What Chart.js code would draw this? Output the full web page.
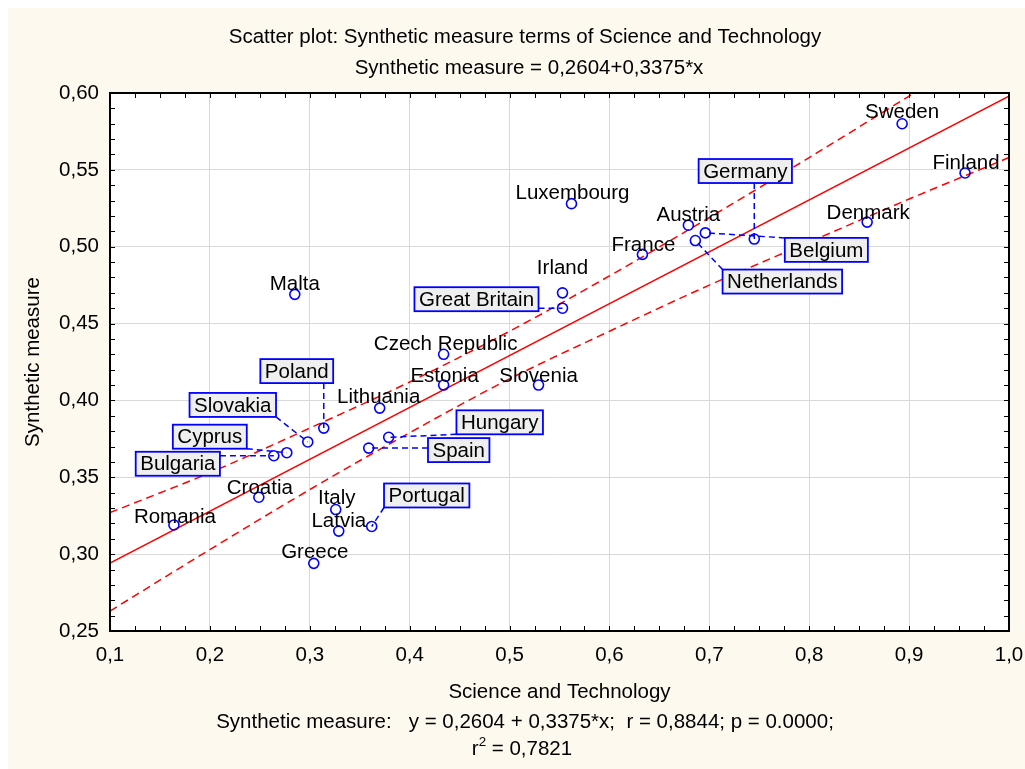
<!DOCTYPE html>
<html>
<head>
<meta charset="utf-8">
<script src="https://cdn.jsdelivr.net/npm/chart.js@4/dist/chart.umd.min.js"></script>
<style>
  body { margin: 0; background: #ffffff; }
  canvas { display: block; }
</style>
</head>
<body>
<canvas id="scatter-chart" width="1025" height="769"></canvas>
<script>
// Data
const countries = ["Sweden", "Finland", "Denmark", "Luxembourg", "Austria", "Germany", "Belgium",
  "Netherlands", "France", "Irland", "Great Britain", "Malta", "Czech Republic", "Estonia",
  "Slovenia", "Lithuania", "Poland", "Slovakia", "Hungary", "Spain", "Cyprus", "Bulgaria",
  "Croatia", "Romania", "Italy", "Latvia", "Portugal", "Greece"];
const scienceTech = [0.893, 0.956, 0.858, 0.562, 0.679, 0.745, 0.696,
  0.686, 0.633, 0.553, 0.553, 0.285, 0.434, 0.434,
  0.529, 0.370, 0.314, 0.298, 0.379, 0.359, 0.277, 0.264,
  0.249, 0.164, 0.326, 0.329, 0.362, 0.304];
const syntheticMeasure = [0.580, 0.548, 0.516, 0.528, 0.514, 0.505, 0.509,
  0.504, 0.495, 0.470, 0.460, 0.469, 0.430, 0.410,
  0.410, 0.395, 0.382, 0.373, 0.376, 0.369, 0.366, 0.364,
  0.337, 0.319, 0.329, 0.315, 0.318, 0.294];

// regression line and 95% bands
const fitX = [0.1, 1.0];
const fitY = [0.2942, 0.5979];
const bandX = [0.1, 0.2, 0.3, 0.4, 0.5, 0.6, 0.7, 0.8, 0.9, 1.0];
const bandUpper = [0.327, 0.353, 0.382, 0.412, 0.445, 0.481, 0.519, 0.558, 0.598, 0.638];
const bandLower = [0.263, 0.303, 0.342, 0.379, 0.414, 0.445, 0.475, 0.503, 0.531, 0.558];

const titleLines = ["Scatter plot: Synthetic measure terms of Science and Technology",
  "Synthetic measure = 0,2604+0,3375*x"];
const xTitle = "Science and Technology";
const yTitle = "Synthetic measure";
const statsLine = "Synthetic measure:   y = 0,2604 + 0,3375*x;  r = 0,8844; p = 0.0000;";
const r2Value = " = 0,7821";

// label placement: offset of label centre from its point, boxed or plain
const labelLayout = {
  "Sweden": [0, -12], "Finland": [1, -11], "Denmark": [1, -10], "Luxembourg": [1, -11],
  "Austria": [0, -11], "Germany": [-9, -68, true], "Belgium": [121, 17, true],
  "Netherlands": [87, 41, true], "France": [1, -10], "Irland": [0, -25],
  "Great Britain": [-86, -9, true], "Malta": [0, -11], "Czech Republic": [2, -11],
  "Estonia": [1, -10], "Slovenia": [0, -10], "Lithuania": [-1, -12],
  "Poland": [-27, -57, true], "Slovakia": [-75, -37, true], "Hungary": [111, -15, true],
  "Spain": [90, 2, true], "Cyprus": [-77, -16, true], "Bulgaria": [-96, 8, true],
  "Croatia": [1, -10], "Romania": [1, -9], "Italy": [1, -12], "Latvia": [0, -11],
  "Portugal": [55, -31, true], "Greece": [1, -12]
};

const FONT = "Liberation Sans, Arial, sans-serif";
const FS = 20.5;

const decorations = {
  id: "decorations",
  beforeDraw(chart) {
    const ctx = chart.ctx;
    const a = chart.chartArea;
    ctx.save();
    ctx.fillStyle = "#fdf9ee";
    ctx.fillRect(8, 8, chart.width - 8, chart.height - 8);
    ctx.fillStyle = "#ffffff";
    ctx.fillRect(a.left, a.top, a.right - a.left, a.bottom - a.top);
    ctx.restore();
  },
  afterDatasetsDraw(chart) {
    const ctx = chart.ctx;
    const meta = chart.getDatasetMeta(0);
    ctx.save();
    ctx.font = FS + "px " + FONT;
    ctx.textAlign = "center";
    ctx.textBaseline = "middle";
    countries.forEach((name, i) => {
      const pt = meta.data[i];
      const lay = labelLayout[name];
      const cx = pt.x + lay[0];
      const cy = pt.y + lay[1];
      if (lay[2]) {
        const w = ctx.measureText(name).width + 9;
        const h = 24;
        const l = cx - w / 2, t = cy - h / 2;
        const sx = Math.min(Math.max(pt.x, l), l + w);
        const sy = Math.min(Math.max(pt.y, t), t + h);
        ctx.strokeStyle = "#0000ff";
        ctx.lineWidth = 1.5;
        ctx.setLineDash([6, 4]);
        ctx.beginPath();
        ctx.moveTo(sx, sy);
        ctx.lineTo(pt.x, pt.y);
        ctx.stroke();
        ctx.setLineDash([]);
        ctx.fillStyle = "#efefef";
        ctx.fillRect(l, t, w, h);
        ctx.lineWidth = 1.8;
        ctx.strokeRect(l, t, w, h);
      }
      ctx.fillStyle = "#000000";
      ctx.fillText(name, cx, cy + 1);
    });
    ctx.restore();
  },
  afterDraw(chart) {
    const ctx = chart.ctx;
    const a = chart.chartArea;
    const xs = chart.scales.x, ys = chart.scales.y;
    ctx.save();
    // inward tick marks on all sides
    ctx.strokeStyle = "#000000";
    ctx.lineWidth = 1;
    ctx.beginPath();
    for (let i = 0; i <= 36; i++) {
      const px = Math.round(xs.getPixelForValue(0.1 + i * 0.025)) + 0.5;
      ctx.moveTo(px, a.top); ctx.lineTo(px, a.top + 5);
      ctx.moveTo(px, a.bottom); ctx.lineTo(px, a.bottom - 5);
    }
    for (let i = 0; i <= 35; i++) {
      const py = Math.round(ys.getPixelForValue(0.25 + i * 0.01)) + 0.5;
      ctx.moveTo(a.left, py); ctx.lineTo(a.left + 5, py);
      ctx.moveTo(a.right, py); ctx.lineTo(a.right - 5, py);
    }
    ctx.stroke();
    ctx.lineWidth = 2;
    ctx.strokeRect(a.left, a.top, a.right - a.left, a.bottom - a.top);

    // titles and statistics text
    ctx.fillStyle = "#000000";
    ctx.font = FS + "px " + FONT;
    ctx.textAlign = "center";
    ctx.textBaseline = "middle";
    ctx.fillText(titleLines[0], 525, 37);
    ctx.fillText(titleLines[1], 529, 68);
    ctx.fillText(xTitle, (a.left + a.right) / 2, 692);
    ctx.fillText(statsLine, 525, 722);
    ctx.textAlign = "left";
    const rW = ctx.measureText("r").width;
    ctx.font = (FS * 0.65) + "px " + FONT;
    const sW = ctx.measureText("2").width;
    ctx.font = FS + "px " + FONT;
    const vW = ctx.measureText(r2Value).width;
    let x0 = 522 - (rW + sW + vW) / 2;
    ctx.fillText("r", x0, 749);
    ctx.font = (FS * 0.65) + "px " + FONT;
    ctx.fillText("2", x0 + rW, 742);
    ctx.font = FS + "px " + FONT;
    ctx.fillText(r2Value, x0 + rW + sW, 749);

    ctx.save();
    ctx.translate(33, (a.top + a.bottom) / 2);
    ctx.rotate(-Math.PI / 2);
    ctx.textAlign = "center";
    ctx.fillText(yTitle, 0, 0);
    ctx.restore();
    ctx.restore();
  }
};

const scatterCtx = document.getElementById("scatter-chart").getContext("2d");
new Chart(scatterCtx, {
  type: "scatter",
  data: {
    datasets: [
      {
        label: "Countries",
        data: countries.map((c, i) => ({ x: scienceTech[i], y: syntheticMeasure[i] })),
        pointRadius: 5,
        pointBorderColor: "#0000ff",
        pointBackgroundColor: "rgba(0,0,0,0)",
        pointBorderWidth: 1.6,
        order: 0,
      },
      {
        label: "Fit",
        data: fitX.map((x, i) => ({ x: x, y: fitY[i] })),
        showLine: true,
        borderColor: "#ff0000",
        borderWidth: 1.5,
        pointRadius: 0,
        order: 1,
      },
      {
        label: "Upper",
        data: bandX.map((x, i) => ({ x: x, y: bandUpper[i] })),
        showLine: true,
        borderColor: "#ff0000",
        borderWidth: 1.5,
        borderDash: [8, 5],
        cubicInterpolationMode: "monotone",
        pointRadius: 0,
        order: 1,
      },
      {
        label: "Lower",
        data: bandX.map((x, i) => ({ x: x, y: bandLower[i] })),
        showLine: true,
        borderColor: "#ff0000",
        borderWidth: 1.5,
        borderDash: [8, 5],
        cubicInterpolationMode: "monotone",
        pointRadius: 0,
        order: 1,
      },
    ],
  },
  options: {
    responsive: false,
    animation: false,
    devicePixelRatio: 1,
    layout: { padding: { top: 93, right: 16, bottom: 0, left: 0 } },
    plugins: {
      legend: { display: false },
      tooltip: { enabled: false },
    },
    scales: {
      x: {
        type: "linear",
        min: 0.1,
        max: 1.0,
        afterFit: (s) => { s.height = 138; s.paddingRight = 0; s.paddingLeft = 0; },
        grid: { color: "#d9d9d9", drawTicks: false },
        border: { display: false },
        ticks: {
          stepSize: 0.1,
          padding: 12,
          color: "#000000",
          font: { family: FONT, size: FS },
          callback: (v) => v.toFixed(1).replace(".", ","),
        },
      },
      y: {
        type: "linear",
        min: 0.25,
        max: 0.6,
        afterFit: (s) => { s.width = 110; s.paddingTop = 0; s.paddingBottom = 0; },
        grid: { color: "#d9d9d9", drawTicks: false },
        border: { display: false },
        ticks: {
          stepSize: 0.05,
          padding: 11,
          color: "#000000",
          font: { family: FONT, size: FS },
          callback: (v) => v.toFixed(2).replace(".", ","),
        },
      },
    },
  },
  plugins: [decorations],
});
</script>
</body>
</html>
